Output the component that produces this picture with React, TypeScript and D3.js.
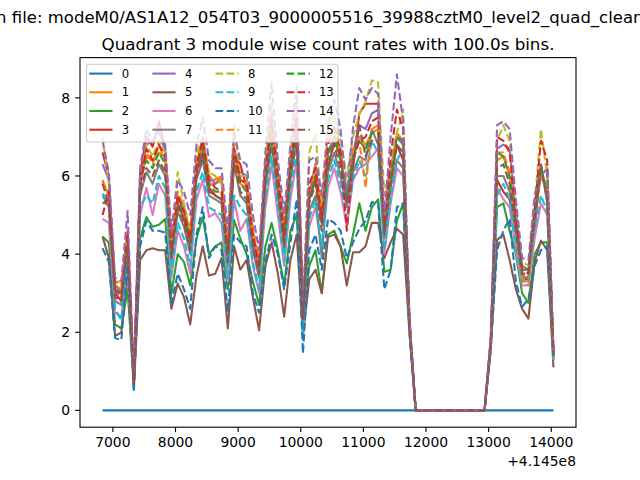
import React from 'react';
import * as d3 from 'd3';

// bin start times, seconds after 4.145e8
const binStart = 6835;
const binWidth = 100;
const nBins = 73;

const xTicks = [7000, 8000, 9000, 10000, 11000, 12000, 13000, 14000];
const yTicks = [0, 2, 4, 6, 8];
const offsetLabel = '+4.145e8';

const suptitle = 'Data in file: modeM0/AS1A12_054T03_9000005516_39988cztM0_level2_quad_clean.evt';
const title = 'Quadrant 3 module wise count rates with 100.0s bins.';

// count rates per module (counts/s)
const m0 = [0, 0, 0, 0, 0, 0, 0, 0, 0, 0, 0, 0, 0, 0, 0, 0, 0, 0, 0, 0, 0, 0, 0, 0, 0, 0, 0, 0, 0, 0, 0, 0, 0, 0, 0, 0, 0, 0, 0, 0, 0, 0, 0, 0, 0, 0, 0, 0, 0, 0, 0, 0, 0, 0, 0, 0, 0, 0, 0, 0, 0, 0, 0, 0, 0, 0, 0, 0, 0, 0, 0, 0, 0];
const m1 = [5.85, 5.5, 3.2, 3.1, 4.5, 0.8, 5.8, 6.5, 6.4, 6.6, 6.5, 4.2, 5.5, 5.1, 4.3, 6.2, 6.8, 5.8, 5.8, 6.0, 4.0, 6.6, 5.8, 5.7, 4.5, 3.8, 6.1, 7.1, 5.9, 4.5, 6.3, 7.2, 2.5, 5.5, 6.0, 4.9, 6.6, 7.0, 6.5, 5.5, 6.6, 7.0, 6.8, 7.1, 7.2, 4.8, 6.0, 7.0, 6.8, 2.3, 0, 0, 0, 0, 0, 0, 0, 0, 0, 0, 0, 0, 1.8, 6.4, 6.5, 6.0, 4.8, 3.5, 3.3, 5.0, 6.0, 5.6, 1.5];
const m2 = [4.45, 4.3, 2.2, 2.1, 3.1, 0.6, 4.4, 4.95, 4.7, 4.75, 4.9, 3.0, 4.0, 3.8, 3.2, 4.4, 4.95, 4.0, 4.2, 4.3, 3.1, 4.87, 4.4, 4.0, 3.3, 2.7, 4.2, 4.8, 4.1, 3.2, 4.6, 5.0, 2.1, 3.7, 4.1, 3.0, 4.5, 4.6, 4.2, 3.76, 4.5, 5.3, 4.6, 5.2, 5.4, 3.55, 3.6, 4.85, 5.3, 2.1, 0, 0, 0, 0, 0, 0, 0, 0, 0, 0, 0, 0, 1.7, 5.2, 5.3, 4.6, 4.0, 3.0, 2.75, 4.0, 4.3, 4.3, 1.3];
const m3 = [6.6, 6.0, 3.0, 2.8, 4.3, 0.7, 6.05, 7.0, 6.75, 7.4, 6.7, 4.0, 5.3, 4.9, 4.2, 6.1, 6.6, 5.7, 5.5, 5.4, 3.5, 6.5, 6.3, 5.7, 4.3, 3.4, 5.9, 7.5, 5.9, 4.4, 6.1, 7.3, 2.2, 5.4, 5.9, 4.8, 6.2, 6.9, 6.5, 5.5, 6.2, 7.6, 7.85, 7.85, 7.85, 4.6, 5.9, 6.8, 6.4, 2.2, 0, 0, 0, 0, 0, 0, 0, 0, 0, 0, 0, 0, 1.7, 5.9, 5.6, 5.4, 4.6, 3.3, 3.4, 4.7, 6.2, 5.5, 1.4];
const m4 = [6.3, 5.9, 3.2, 3.0, 4.4, 0.8, 5.7, 6.8, 6.9, 7.2, 6.6, 4.2, 5.4, 5.2, 4.5, 6.2, 7.0, 6.0, 5.8, 5.9, 4.1, 6.6, 6.1, 6.0, 4.4, 3.6, 6.0, 7.6, 6.1, 4.6, 6.2, 7.6, 2.5, 5.5, 6.3, 5.0, 6.6, 7.0, 6.7, 5.2, 6.6, 7.3, 7.2, 7.6, 7.7, 4.9, 6.2, 7.0, 6.8, 2.4, 0, 0, 0, 0, 0, 0, 0, 0, 0, 0, 0, 0, 1.9, 6.7, 6.8, 6.7, 5.1, 3.7, 3.6, 5.2, 6.0, 6.2, 1.5];
const m5 = [4.45, 3.9, 1.9, 2.0, 3.6, 0.6, 3.85, 4.1, 4.15, 4.1, 4.1, 2.6, 3.25, 2.9, 2.2, 3.45, 4.2, 3.45, 3.5, 3.9, 2.1, 4.2, 3.6, 3.85, 2.9, 2.05, 3.7, 4.3, 3.5, 2.4, 3.85, 4.5, 1.9, 3.35, 3.6, 3.0, 4.44, 4.5, 4.2, 3.2, 4.05, 4.05, 4.2, 4.8, 4.8, 3.9, 4.3, 4.65, 4.5, 2.0, 0, 0, 0, 0, 0, 0, 0, 0, 0, 0, 0, 0, 1.6, 4.36, 4.5, 3.85, 3.1, 2.6, 2.35, 3.8, 4.35, 4.1, 1.1];
const m6 = [4.9, 4.8, 2.5, 2.4, 3.7, 0.6, 5.0, 5.7, 5.0, 5.8, 5.5, 3.4, 4.6, 4.2, 3.5, 5.4, 5.9, 4.95, 5.05, 4.8, 3.3, 5.4, 4.6, 4.9, 3.7, 3.0, 5.2, 6.3, 5.0, 3.7, 5.4, 6.4, 1.9, 4.7, 5.2, 4.1, 5.7, 6.2, 5.6, 4.7, 5.9, 6.2, 6.3, 6.5, 6.7, 4.0, 5.3, 6.2, 6.0, 2.1, 0, 0, 0, 0, 0, 0, 0, 0, 0, 0, 0, 0, 1.6, 5.7, 5.4, 5.2, 4.1, 3.2, 3.2, 4.4, 5.3, 5.0, 1.3];
const m7 = [5.5, 5.2, 2.8, 2.7, 4.1, 0.7, 5.5, 6.1, 5.8, 6.3, 6.0, 3.8, 5.1, 4.7, 4.0, 5.9, 6.4, 5.5, 5.4, 5.3, 3.7, 6.3, 5.5, 5.3, 4.1, 3.4, 5.7, 6.8, 5.5, 4.1, 5.9, 6.9, 2.2, 5.1, 5.5, 3.9, 6.1, 6.6, 6.0, 5.2, 6.1, 6.5, 6.4, 7.2, 6.8, 4.4, 5.7, 6.4, 6.2, 2.2, 0, 0, 0, 0, 0, 0, 0, 0, 0, 0, 0, 0, 1.7, 6.0, 6.0, 5.6, 4.5, 3.4, 3.4, 4.8, 6.3, 5.3, 1.4];
const m8 = [7.0, 5.8, 3.3, 3.3, 4.5, 0.8, 5.9, 6.8, 6.5, 6.9, 6.6, 4.4, 6.1, 5.3, 4.6, 6.6, 7.0, 6.1, 6.0, 5.8, 4.3, 7.3, 6.0, 6.0, 4.7, 3.8, 6.4, 7.9, 6.1, 4.8, 6.6, 7.9, 2.5, 6.6, 7.1, 5.2, 7.2, 7.5, 6.9, 6.0, 7.0, 7.6, 7.9, 8.45, 8.4, 5.5, 6.3, 7.1, 7.7, 2.3, 0, 0, 0, 0, 0, 0, 0, 0, 0, 0, 0, 0, 1.8, 6.9, 7.3, 6.9, 5.0, 3.8, 3.7, 5.3, 7.2, 6.0, 1.4];
const m9 = [5.55, 5.3, 2.6, 2.3, 3.9, 0.6, 5.2, 5.5, 5.3, 6.0, 5.7, 3.5, 4.8, 4.4, 3.7, 5.6, 6.1, 5.2, 5.1, 5.0, 3.4, 5.5, 5.2, 5.0, 3.8, 3.1, 5.4, 6.5, 5.2, 3.8, 5.6, 6.6, 2.0, 4.9, 5.4, 4.2, 5.9, 6.4, 5.8, 4.9, 5.9, 6.4, 6.0, 6.9, 6.6, 4.1, 5.4, 6.4, 6.7, 2.1, 0, 0, 0, 0, 0, 0, 0, 0, 0, 0, 0, 0, 1.6, 5.5, 5.8, 5.4, 4.2, 3.3, 3.3, 4.6, 5.5, 5.1, 1.3];
const m10 = [4.15, 3.8, 1.85, 1.8, 3.8, 0.47, 4.2, 4.85, 4.6, 4.6, 4.55, 2.75, 3.5, 3.1, 2.6, 4.5, 5.2, 3.9, 4.2, 4.1, 2.55, 4.5, 4.3, 4.2, 3.0, 2.5, 3.8, 4.5, 4.0, 3.1, 4.3, 5.4, 1.46, 4.1, 4.5, 3.6, 4.9, 4.8, 4.6, 3.9, 4.3, 4.65, 4.85, 5.33, 5.3, 3.1, 3.6, 5.2, 5.3, 2.0, 0, 0, 0, 0, 0, 0, 0, 0, 0, 0, 0, 0, 1.6, 4.1, 4.6, 4.9, 3.3, 2.65, 2.85, 3.7, 4.1, 4.2, 1.4];
const m11 = [5.9, 5.5, 3.3, 3.2, 4.4, 0.8, 5.9, 6.6, 6.3, 6.8, 6.4, 4.3, 5.6, 5.2, 4.5, 6.4, 6.9, 6.0, 5.9, 6.0, 4.2, 6.8, 5.9, 5.8, 4.6, 3.9, 6.2, 7.2, 6.0, 4.6, 6.4, 7.4, 2.6, 5.6, 6.3, 5.1, 7.2, 7.1, 6.6, 5.6, 6.7, 6.9, 5.7, 7.2, 7.3, 4.8, 6.1, 7.1, 6.9, 2.3, 0, 0, 0, 0, 0, 0, 0, 0, 0, 0, 0, 0, 1.8, 6.6, 6.6, 6.1, 4.9, 3.4, 3.2, 5.1, 6.1, 5.7, 1.5];
const m12 = [5.3, 5.4, 3.1, 3.0, 4.3, 0.7, 5.9, 6.4, 6.2, 6.6, 6.3, 4.1, 5.4, 5.0, 4.3, 6.2, 6.7, 5.8, 5.6, 5.6, 4.0, 6.6, 5.8, 5.6, 4.4, 3.7, 6.0, 7.1, 5.8, 4.4, 6.2, 7.2, 2.4, 5.5, 6.0, 4.8, 6.5, 7.0, 6.4, 5.5, 6.5, 6.9, 6.7, 7.1, 7.1, 4.7, 6.0, 7.0, 6.9, 2.2, 0, 0, 0, 0, 0, 0, 0, 0, 0, 0, 0, 0, 1.7, 6.6, 6.5, 6.0, 4.8, 3.6, 3.6, 5.1, 6.2, 5.6, 1.4];
const m13 = [5.0, 5.6, 3.1, 2.9, 4.6, 0.7, 5.8, 6.7, 6.4, 6.8, 6.5, 4.1, 5.5, 5.1, 4.4, 6.3, 6.9, 5.9, 5.7, 5.6, 4.0, 6.7, 5.9, 5.8, 4.5, 3.7, 6.2, 7.4, 6.0, 4.5, 6.3, 7.5, 2.4, 5.8, 6.2, 4.9, 6.8, 7.3, 6.6, 4.6, 6.4, 6.9, 7.0, 7.4, 7.5, 4.7, 6.5, 7.7, 7.2, 2.3, 0, 0, 0, 0, 0, 0, 0, 0, 0, 0, 0, 0, 1.8, 7.0, 6.9, 6.6, 4.9, 3.6, 3.5, 5.1, 6.9, 6.4, 1.5];
const m14 = [6.9, 6.1, 3.4, 3.3, 5.1, 0.9, 6.2, 7.2, 6.9, 7.1, 6.8, 4.6, 5.9, 5.6, 5.0, 6.8, 7.5, 6.4, 6.2, 6.2, 4.6, 7.1, 6.4, 6.3, 5.0, 4.1, 6.6, 8.4, 6.4, 5.05, 6.8, 8.3, 2.7, 6.4, 6.5, 5.5, 7.3, 7.95, 7.2, 5.6, 7.25, 8.25, 7.95, 8.25, 8.1, 5.0, 7.0, 8.6, 7.4, 2.4, 0, 0, 0, 0, 0, 0, 0, 0, 0, 0, 0, 0, 1.9, 7.3, 7.4, 7.2, 5.4, 3.9, 3.85, 5.5, 6.2, 6.1, 1.5];
const m15 = [5.8, 5.3, 2.9, 2.8, 4.2, 0.7, 5.6, 6.2, 6.0, 6.4, 6.1, 3.9, 5.2, 4.8, 4.1, 6.0, 6.5, 5.6, 5.5, 5.4, 3.8, 6.4, 5.6, 5.4, 4.2, 3.5, 5.8, 6.9, 5.6, 4.2, 6.0, 7.0, 2.3, 5.3, 5.8, 4.6, 6.3, 6.8, 6.2, 5.3, 6.3, 7.3, 6.5, 6.9, 6.9, 4.5, 5.8, 6.8, 6.6, 2.2, 0, 0, 0, 0, 0, 0, 0, 0, 0, 0, 0, 0, 1.7, 6.2, 6.3, 5.8, 4.6, 3.5, 3.5, 4.9, 6.3, 5.4, 1.4];

const modules = [m0, m1, m2, m3, m4, m5, m6, m7, m8, m9, m10, m11, m12, m13, m14, m15];
const moduleNames = ['0', '1', '2', '3', '4', '5', '6', '7', '8', '9', '10', '11', '12', '13', '14', '15'];

const tab10 = ['#1f77b4', '#ff7f0e', '#2ca02c', '#d62728', '#9467bd', '#8c564b', '#e377c2', '#7f7f7f', '#bcbd22', '#17becf'];

const W = 640;
const H = 480;
const font = 'DejaVu Sans, sans-serif';

// modules 8..15 are drawn dashed
const isDashed = (k: number) => k >= 8;

const App = () => {
  const left = 80, right = 576, top = 57.6, bottom = 427.2;
  const lw = 2.08;
  const dash = '7.7,3.3';

  const times = d3.range(nBins).map(i => binStart + i * binWidth);
  const [t0, t1] = d3.extent(times) as [number, number];
  const xPad = (t1 - t0) * 0.05;
  const x = d3.scaleLinear().domain([t0 - xPad, t1 + xPad]).range([left, right]);

  const yMax = d3.max(modules, m => d3.max(m)) as number;
  const yMin = d3.min(modules, m => d3.min(m)) as number;
  const yPad = (yMax - yMin) * 0.05;
  const y = d3.scaleLinear().domain([yMin - yPad, yMax + yPad]).range([bottom, top]);

  const line = d3.line<number>()
    .x((_, i) => x(times[i]))
    .y(d => y(d));

  // legend layout (4 columns, 4 rows)
  const legFont = 11.6;
  const colX = [89.3, 152.4, 215.5, 286.5];
  const rowY = [73.6, 92.3, 111, 129.7];

  return (
    <div style={{ position: 'absolute', left: 0, top: 0 }}>
      <svg width={W} height={H} style={{ display: 'block', fontFamily: font }}>
        <rect width={W} height={H} fill="#fff" />
        <defs>
          <clipPath id="plotArea">
            <rect x={left} y={top} width={right - left} height={bottom - top} />
          </clipPath>
        </defs>

        <text x={311} y={23} textAnchor="middle" fontSize={16.5} fill="#000">{suptitle}</text>
        <text x={(left + right) / 2} y={50} textAnchor="middle" fontSize={16.7} fill="#000">{title}</text>

        <g clipPath="url(#plotArea)">
          {modules.map((m, k) => (
            <path
              key={k}
              d={line(m) || ''}
              fill="none"
              stroke={tab10[k % 10]}
              strokeWidth={lw}
              strokeLinejoin="round"
              strokeDasharray={isDashed(k) ? dash : undefined}
            />
          ))}
        </g>

        {/* axes frame */}
        <rect x={left} y={top} width={right - left} height={bottom - top} fill="none" stroke="#000" strokeWidth={1.1} />

        {xTicks.map(t => (
          <g key={t}>
            <line x1={x(t)} x2={x(t)} y1={bottom} y2={bottom + 4.9} stroke="#000" strokeWidth={1.1} />
            <text x={x(t)} y={447} textAnchor="middle" fontSize={13.9} fill="#000">{t}</text>
          </g>
        ))}
        <text x={right} y={466} textAnchor="end" fontSize={13.9} fill="#000">{offsetLabel}</text>

        {yTicks.map(v => (
          <g key={v}>
            <line x1={left - 4.9} x2={left} y1={y(v)} y2={y(v)} stroke="#000" strokeWidth={1.1} />
            <text x={left - 9.8} y={y(v)} dy="0.36em" textAnchor="end" fontSize={13.9} fill="#000">{v}</text>
          </g>
        ))}

        {/* legend */}
        <rect x={86.5} y={64.2} width={251.5} height={77.8} rx={3} fill="#fff" fillOpacity={0.8} stroke="#cccccc" strokeWidth={1.1} />
        {moduleNames.map((name, k) => {
          const cx = colX[Math.floor(k / 4)];
          const cy = rowY[k % 4];
          return (
            <g key={name}>
              <line
                x1={cx}
                x2={cx + 2 * legFont}
                y1={cy}
                y2={cy}
                stroke={tab10[k % 10]}
                strokeWidth={lw}
                strokeDasharray={isDashed(k) ? dash : undefined}
              />
              <text x={cx + 2.8 * legFont} y={cy} dy="0.36em" fontSize={legFont} fill="#000">{name}</text>
            </g>
          );
        })}
      </svg>
    </div>
  );
};

export default App;
